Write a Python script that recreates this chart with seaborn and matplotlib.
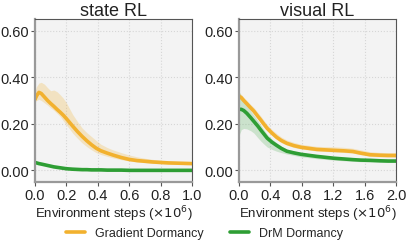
import matplotlib
matplotlib.use("Agg")
import matplotlib.pyplot as plt
import seaborn as sns
import pandas as pd
from matplotlib.lines import Line2D

# ---- data ----
state_x = [0.0, 0.01, 0.025, 0.04, 0.06, 0.08, 0.10, 0.12, 0.14, 0.16, 0.18, 0.20, 0.22, 0.24,
           0.27, 0.30, 0.33, 0.36, 0.39, 0.42, 0.46, 0.50, 0.55, 0.60, 0.65, 0.70, 0.75, 0.80,
           0.85, 0.90, 0.95, 1.00]
state_grad = [0.305, 0.320, 0.335, 0.330, 0.315, 0.300, 0.287, 0.275, 0.262, 0.250, 0.237, 0.222,
              0.206, 0.190, 0.167, 0.146, 0.127, 0.110, 0.095, 0.084, 0.074, 0.065, 0.055, 0.047,
              0.042, 0.039, 0.036, 0.034, 0.032, 0.031, 0.030, 0.029]
state_grad_lo = [0.295, 0.300, 0.305, 0.300, 0.290, 0.280, 0.268, 0.258, 0.245, 0.232, 0.213, 0.195,
                 0.178, 0.160, 0.138, 0.118, 0.102, 0.088, 0.076, 0.068, 0.060, 0.053, 0.046, 0.040,
                 0.036, 0.033, 0.030, 0.028, 0.027, 0.026, 0.025, 0.025]
state_grad_hi = [0.340, 0.360, 0.375, 0.378, 0.370, 0.355, 0.342, 0.345, 0.338, 0.325, 0.310, 0.290,
                 0.265, 0.240, 0.210, 0.182, 0.162, 0.145, 0.128, 0.112, 0.098, 0.087, 0.076, 0.066,
                 0.058, 0.052, 0.047, 0.043, 0.040, 0.038, 0.036, 0.035]
state_drm = [0.034, 0.032, 0.029, 0.027, 0.024, 0.021, 0.018, 0.015, 0.013, 0.011, 0.009, 0.007,
             0.006, 0.005, 0.004, 0.003, 0.003, 0.002, 0.002, 0.002, 0.001, 0.001, 0.001, 0.0,
             0.0, 0.0, 0.0, 0.0, 0.0, 0.0, 0.0, 0.0]

vis_x = [0.0, 0.03, 0.06, 0.10, 0.15, 0.19, 0.24, 0.28, 0.32, 0.36, 0.42, 0.48, 0.54, 0.61, 0.70,
         0.79, 0.90, 0.99, 1.10, 1.21, 1.33, 1.45, 1.55, 1.67, 1.80, 1.90, 2.00]
vis_grad = [0.318, 0.312, 0.300, 0.286, 0.268, 0.254, 0.232, 0.215, 0.197, 0.180, 0.160, 0.142,
            0.128, 0.116, 0.106, 0.099, 0.094, 0.090, 0.088, 0.086, 0.084, 0.081, 0.074, 0.067,
            0.065, 0.064, 0.064]
vis_grad_lo = [0.308, 0.302, 0.290, 0.276, 0.258, 0.244, 0.222, 0.205, 0.187, 0.170, 0.150, 0.133,
               0.119, 0.108, 0.098, 0.092, 0.087, 0.083, 0.081, 0.079, 0.077, 0.074, 0.067, 0.060,
               0.058, 0.057, 0.057]
vis_grad_hi = [0.332, 0.326, 0.314, 0.300, 0.282, 0.270, 0.248, 0.232, 0.213, 0.196, 0.175, 0.158,
               0.143, 0.130, 0.120, 0.112, 0.107, 0.103, 0.102, 0.101, 0.099, 0.095, 0.088, 0.080,
               0.077, 0.076, 0.076]
vis_drm = [0.262, 0.262, 0.257, 0.245, 0.226, 0.210, 0.190, 0.172, 0.155, 0.138, 0.121, 0.107,
           0.094, 0.082, 0.075, 0.069, 0.064, 0.060, 0.056, 0.052, 0.049, 0.046, 0.044, 0.043,
           0.041, 0.040, 0.040]
vis_drm_lo = [0.150, 0.175, 0.180, 0.178, 0.170, 0.160, 0.140, 0.125, 0.112, 0.100, 0.090, 0.082,
              0.076, 0.070, 0.064, 0.058, 0.054, 0.050, 0.047, 0.044, 0.041, 0.039, 0.037, 0.036,
              0.035, 0.034, 0.034]
vis_drm_hi = [0.340, 0.320, 0.300, 0.280, 0.255, 0.237, 0.213, 0.193, 0.173, 0.154, 0.134, 0.118,
              0.104, 0.091, 0.083, 0.076, 0.071, 0.067, 0.063, 0.059, 0.056, 0.053, 0.051, 0.050,
              0.048, 0.047, 0.047]

titles = ["state RL", "visual RL"]
xticks_state = [0.0, 0.2, 0.4, 0.6, 0.8, 1.0]
xticks_vis = [0.0, 0.4, 0.8, 1.2, 1.6, 2.0]
yticks = [0.0, 0.2, 0.4, 0.6]
legend_labels = ["Gradient Dormancy", "DrM Dormancy"]

ORANGE = "#F2B12E"
GREEN = "#2E9E34"

sns.set_theme(style="whitegrid")
plt.rcParams["font.family"] = ["Liberation Sans", "DejaVu Sans"]

fig = plt.figure(figsize=(4.09, 2.51), dpi=100)
ax1 = fig.add_axes([35/409, 1-183/251, 157/409, 163/251])
ax2 = fig.add_axes([239/409, 1-183/251, 157/409, 163/251])

def style(ax, title, xticks, xmax):
    ax.set_facecolor("#F3F3F3")
    ax.set_xlim(0, xmax)
    ax.set_ylim(-0.05, 0.65)
    ax.set_xticks(xticks)
    ax.set_xticklabels([f"{t:.1f}" for t in xticks], fontsize=10.5)
    ax.set_yticks(yticks)
    ax.set_yticklabels([f"{t:.2f}" for t in yticks], fontsize=10.5)
    ax.grid(True, color="#D6D6D6", linestyle=":", linewidth=0.8)
    ax.set_title(title, fontsize=13, pad=2, color="#222222")
    ax.set_xlabel("Environment steps ($\\times 10^6$)", fontsize=9.5, labelpad=1, color="#222222")
    ax.set_ylabel("")
    for s in ["left", "bottom"]:
        ax.spines[s].set_color("#999999")
        ax.spines[s].set_linewidth(1.6)
    for s in ["top", "right"]:
        ax.spines[s].set_color("#555555")
        ax.spines[s].set_linewidth(0.8)
    ax.tick_params(axis="both", which="both", length=3, width=0.8, color="#555555",
                   pad=1.5, labelcolor="#222222", left=True, bottom=True)

# state RL
df_s = pd.DataFrame({"x": state_x, "grad": state_grad, "drm": state_drm})
ax1.fill_between(state_x, state_grad_lo, state_grad_hi, color=ORANGE, alpha=0.25, linewidth=0)
sns.lineplot(data=df_s, x="x", y="grad", ax=ax1, color=ORANGE, linewidth=2.6)
sns.lineplot(data=df_s, x="x", y="drm", ax=ax1, color=GREEN, linewidth=2.6)
style(ax1, titles[0], xticks_state, 1.0)

# visual RL
df_v = pd.DataFrame({"x": vis_x, "grad": vis_grad, "drm": vis_drm})
ax2.fill_between(vis_x, vis_drm_lo, vis_drm_hi, color=GREEN, alpha=0.2, linewidth=0)
ax2.fill_between(vis_x, vis_grad_lo, vis_grad_hi, color=ORANGE, alpha=0.25, linewidth=0)
sns.lineplot(data=df_v, x="x", y="grad", ax=ax2, color=ORANGE, linewidth=2.6)
sns.lineplot(data=df_v, x="x", y="drm", ax=ax2, color=GREEN, linewidth=2.6)
style(ax2, titles[1], xticks_vis, 2.0)

handles = [Line2D([], [], color=ORANGE, linewidth=2.6), Line2D([], [], color=GREEN, linewidth=2.6)]
fig.legend(handles, legend_labels, loc="center",
           bbox_to_anchor=(0.5, 1-234/251), ncol=2, frameon=False, fontsize=9,
           handlelength=1.5, columnspacing=2.1, handletextpad=0.8)

fig.savefig("out.png", dpi=100)
